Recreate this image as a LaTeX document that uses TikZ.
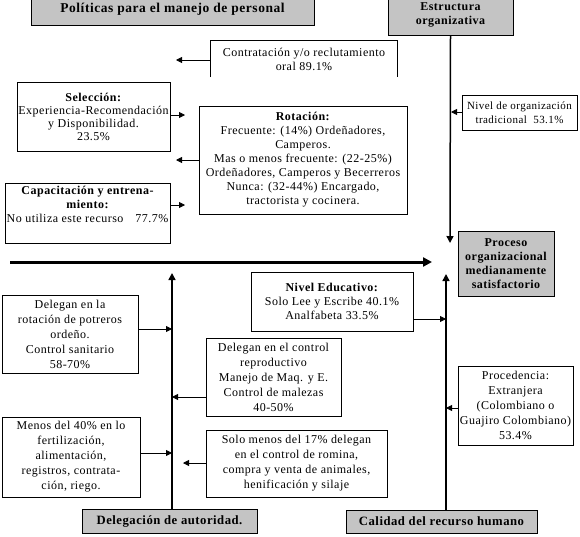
\documentclass[tikz,border=0pt]{standalone}
\usepackage{fontspec}
\setmainfont{Liberation Serif}[LetterSpace=4]
\usetikzlibrary{arrows.meta}
\definecolor{boxgray}{RGB}{196,196,196}
\newcommand{\captit}[1]{{\fontsize{12}{14}\selectfont\bfseries #1}}
\begin{document}
\begin{tikzpicture}[x=1pt,y=-1pt,
  every node/.style={font=\fontsize{12}{14}\selectfont, inner sep=0pt, align=center},
  bx/.style={draw, line width=0.8pt},
  gbx/.style={draw, line width=1pt, fill=boxgray, font=\fontsize{12.7}{14}\selectfont\bfseries},
  arr/.style={line width=0.8pt, -{Triangle[length=6pt,width=6pt]}},
  varr/.style={line width=1.5pt, -{Triangle[length=7pt,width=7pt]}},
  thickarr/.style={line width=3pt, -{Triangle[length=9pt,width=9pt]}},
  ls15/.style={font=\fontsize{12}{15}\selectfont}
]
\useasboundingbox (0,0) rectangle (580,536);

% gray header / footer boxes
\node[gbx, minimum width=283pt, minimum height=31pt, font=\fontsize{13.5}{14}\selectfont\bfseries] (pol) at (172.5,9.5) {Políticas para el manejo de personal};
\node[gbx, minimum width=125pt, minimum height=41pt, font=\fontsize{12}{14}\selectfont\bfseries] (est) at (450.5,14.5) {Estructura\\organizativa};
\node[gbx, minimum width=96pt, minimum height=65pt, font=\fontsize{12}{14}\selectfont\bfseries] (proc) at (506,263.5) {Proceso\\organizacional\\medianamente\\satisfactorio};
\node[gbx, minimum width=175pt, minimum height=24pt] (deleg) at (169.5,521) {Delegación de autoridad.};
\node[gbx, minimum width=191pt, minimum height=23pt] (cal) at (441.5,521.5) {Calidad del recurso humano};

% text boxes
\node[minimum width=186pt, minimum height=36pt] (contr) at (304,59) {Contratación y/o reclutamiento\\oral 89.1\%};
\draw[bx] (contr.south west) -- (contr.north west) -- (contr.north east) -- (contr.south east);

\node[bx, minimum width=153pt, minimum height=69pt, font=\fontsize{12}{13}\selectfont] (sel) at (93.5,116.5)
  {\textbf{Selección:}\\Experiencia-Recomendación\\y Disponibilidad.\\23.5\%};
\node[bx, minimum width=208pt, minimum height=108pt] (rot) at (303,160)
  {\textbf{Rotación:}\\Frecuente: (14\%) Ordeñadores,\\Camperos.\\Mas o menos frecuente: (22-25\%)\\Ordeñadores, Camperos y Becerreros\\Nunca: (32-44\%) Encargado,\\tractorista y cocinera.};
\node[bx, minimum width=165pt, minimum height=60pt] (cap) at (87.5,213)
  {\captit{Capacitación y entrena-}\\\captit{miento:}\\No utiliza este recurso\quad 77.7\%\\\strut};
\node[bx, minimum width=115pt, minimum height=35pt, font=\fontsize{11}{14}\selectfont] (nivorg) at (519.5,112.5)
  {Nivel de organización\\tradicional\ \ 53.1\%};
\node[bx, minimum width=162pt, minimum height=59pt] (edu) at (332,301.5)
  {\textbf{Nivel Educativo:}\\Solo Lee y Escribe 40.1\%\\Analfabeta 33.5\%};
\node[bx, ls15, minimum width=136pt, minimum height=78pt] (dele1) at (70,334)
  {Delegan en la\\rotación de potreros\\ordeño.\\Control sanitario\\58-70\%};
\node[bx, ls15, minimum width=135pt, minimum height=78pt] (dele2) at (273.5,377)
  {Delegan en el control\\reproductivo\\Manejo de Maq. y E.\\Control de malezas\\40-50\%};
\node[bx, ls15, minimum width=138pt, minimum height=80pt] (dele3) at (71,457)
  {Menos del 40\% en lo\\fertilización,\\alimentación,\\registros, contrata-\\ción, riego.};
\node[bx, ls15, minimum width=181pt, minimum height=67pt] (dele4) at (296.5,463.5)
  {Solo menos del 17\% delegan\\en el control de romina,\\compra y venta de animales,\\henificación y silaje};
\node[bx, ls15, minimum width=115pt, minimum height=79pt] (procd) at (515.5,405.5)
  {Procedencia:\\Extranjera\\(Colombiano o\\Guajiro Colombiano)\\53.4\%};

% main lines
\coordinate (estend) at (450,243);
\draw[varr] (est.south) -- (estend);
\coordinate (caltop) at (446,274);
\draw[varr] (cal.north -| caltop) -- (caltop);
\coordinate (delegtop) at (172,273);
\draw[varr] (deleg.north -| delegtop) -- (delegtop);
\coordinate (thA) at (10,262);
\coordinate (thB) at (432,262);
\draw[thickarr] (thA) -- (thB);

% small arrows
\coordinate (tcontr) at (176,60);
\draw[arr] (contr.west |- tcontr) -- (tcontr);
\coordinate (tsel) at (185,115);
\draw[arr] (sel.east |- tsel) -- (tsel);
\coordinate (trot) at (176,160);
\draw[arr] (rot.west |- trot) -- (trot);
\coordinate (tcap) at (185,205);
\draw[arr] (cap.east |- tcap) -- (tcap);
\coordinate (tnivorg) at (451,112);
\draw[arr] (nivorg.west |- tnivorg) -- (tnivorg);
\coordinate (tedu) at (446,319);
\draw[arr] (edu.east |- tedu) -- (tedu);
\coordinate (tdele1) at (172,329);
\draw[arr] (dele1.east |- tdele1) -- (tdele1);
\coordinate (tdele2) at (172,397);
\draw[arr] (dele2.west |- tdele2) -- (tdele2);
\coordinate (tdele3) at (172,453);
\draw[arr] (dele3.east |- tdele3) -- (tdele3);
\coordinate (tdele4) at (183,463);
\draw[arr] (dele4.west |- tdele4) -- (tdele4);
\coordinate (tprocd) at (446,408);
\draw[arr] (procd.west |- tprocd) -- (tprocd);
\end{tikzpicture}
\end{document}
